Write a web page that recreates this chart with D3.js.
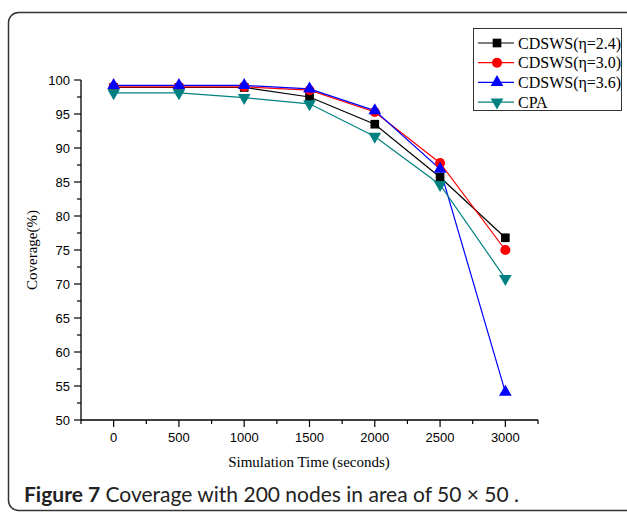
<!DOCTYPE html>
<html>
<head>
<meta charset="utf-8">
<script src="https://d3js.org/d3.v7.min.js"></script>
<style>
  body { margin: 0; background: #fff; }
</style>
</head>
<body>
<script>
  // data
  let times = [0, 500, 1000, 1500, 2000, 2500, 3000]
  let eta24 = [98.9, 98.9, 98.9, 97.5, 93.5, 85.7, 76.8]
  let eta30 = [99.0, 99.0, 99.0, 98.5, 95.3, 87.8, 75.0]
  let eta36 = [99.2, 99.2, 99.2, 98.7, 95.5, 86.9, 54.1]
  let cpa   = [98.1, 98.1, 97.4, 96.5, 91.7, 84.6, 70.8]
  let names = ["CDSWS(\u03b7=2.4)", "CDSWS(\u03b7=3.0)", "CDSWS(\u03b7=3.6)", "CPA"]
  let colors = ["#000000", "#ff0000", "#0000ff", "#008080"]
  let shapes = [d3.symbolSquare, d3.symbolCircle, d3.symbolTriangle, "down"]
  let yTicks = [50, 55, 60, 65, 70, 75, 80, 85, 90, 95, 100]
  let xTicks = [0, 500, 1000, 1500, 2000, 2500, 3000]

  let series = [eta24, eta30, eta36, cpa]

  let svg = d3.select("body").append("svg")
              .attr("width", 627).attr("height", 513)

  // outer rounded frame (runs off the right edge)
  svg.append("rect").attr("x", 8.5).attr("y", 12.5).attr("width", 640).attr("height", 498)
     .attr("rx", 10).attr("fill", "none").attr("stroke", "#333").attr("stroke-width", 1.5)

  let x = d3.scaleLinear().domain([-250, 3250]).range([81, 538])
  let y = d3.scaleLinear().domain([50, 100]).range([420, 80])

  // minor ticks
  let xMinor = d3.range(-250, 3251, 250).filter(v => v % 500 != 0)
  let yMinor = d3.range(52.5, 100, 5)

  let gx = svg.append("g").attr("transform", "translate(0,420)")
  gx.append("line").attr("x1", 81).attr("x2", 538).attr("stroke", "#000").attr("stroke-width", 1.3)
  gx.selectAll(".mn").data(xMinor).join("line")
    .attr("x1", d => x(d)).attr("x2", d => x(d)).attr("y1", 0).attr("y2", 4)
    .attr("stroke", "#000").attr("stroke-width", 1.2)
  gx.selectAll(".mj").data(xTicks).join("line")
    .attr("x1", d => x(d)).attr("x2", d => x(d)).attr("y1", 0).attr("y2", 7)
    .attr("stroke", "#000").attr("stroke-width", 1.2)
  gx.selectAll("text").data(xTicks).join("text")
    .attr("x", d => x(d)).attr("y", 22).attr("text-anchor", "middle")
    .attr("font-family", "Liberation Sans, Arial, sans-serif").attr("font-size", 13)
    .text(d => d)

  let gy = svg.append("g").attr("transform", "translate(81,0)")
  gy.append("line").attr("y1", 80).attr("y2", 420).attr("stroke", "#000").attr("stroke-width", 1.3)
  gy.selectAll(".mn").data(yMinor).join("line")
    .attr("y1", d => y(d)).attr("y2", d => y(d)).attr("x1", 0).attr("x2", -4)
    .attr("stroke", "#000").attr("stroke-width", 1.2)
  gy.selectAll(".mj").data(yTicks).join("line")
    .attr("y1", d => y(d)).attr("y2", d => y(d)).attr("x1", 0).attr("x2", -7)
    .attr("stroke", "#000").attr("stroke-width", 1.2)
  gy.selectAll("text").data(yTicks).join("text")
    .attr("x", -11).attr("y", d => y(d) + 4.5).attr("text-anchor", "end")
    .attr("font-family", "Liberation Sans, Arial, sans-serif").attr("font-size", 13)
    .text(d => d)

  // axis titles
  svg.append("text").attr("x", 309).attr("y", 467).attr("text-anchor", "middle")
     .attr("font-family", "Liberation Serif, Times New Roman, serif").attr("font-size", 15)
     .text("Simulation Time (seconds)")
  svg.append("text").attr("transform", "translate(37,250) rotate(-90)").attr("text-anchor", "middle")
     .attr("font-family", "Liberation Serif, Times New Roman, serif").attr("font-size", 15)
     .text("Coverage(%)")

  let marker = (sel, i) => {
    if (shapes[i] == "down") {
      sel.attr("d", d3.symbol().type(d3.symbolTriangle).size(70)).attr("transform", function() {
        return d3.select(this).attr("transform") + " rotate(180)"
      })
    } else {
      let size = i == 0 ? 75 : i == 1 ? 80 : 70
      sel.attr("d", d3.symbol().type(shapes[i]).size(size))
    }
  }

  let line = d3.line().x((d, j) => x(times[j])).y(d => y(d))

  series.forEach((vals, i) => {
    svg.append("path").datum(vals).attr("d", line)
       .attr("fill", "none").attr("stroke", colors[i]).attr("stroke-width", 1.2)
  })
  series.forEach((vals, i) => {
    svg.append("g").selectAll("path").data(vals).join("path")
       .attr("transform", (d, j) => "translate(" + x(times[j]) + "," + y(d) + ")")
       .attr("fill", colors[i])
       .call(marker, i)
  })

  // legend
  let lg = svg.append("g").attr("transform", "translate(473,28)")
  lg.append("rect").attr("x", 0.5).attr("y", 0.5).attr("width", 148).attr("height", 82)
    .attr("fill", "#fff").attr("stroke", "#333").attr("stroke-width", 1)
  names.forEach((n, i) => {
    let yy = 15 + i * 19.7
    lg.append("line").attr("x1", 5).attr("x2", 41).attr("y1", yy).attr("y2", yy)
      .attr("stroke", colors[i]).attr("stroke-width", 1.2)
    lg.append("path").attr("transform", "translate(24," + yy + ")").attr("fill", colors[i]).call(marker, i)
    lg.append("text").attr("x", 45).attr("y", yy + 5.5)
      .attr("font-family", "Liberation Serif, Times New Roman, serif").attr("font-size", 16)
      .text(n)
  })

  // caption
  let cap = svg.append("text").attr("x", 24).attr("y", 502)
     .attr("font-family", "Lato, Open Sans, sans-serif").attr("font-size", 21).attr("fill", "#222")
  cap.append("tspan").attr("font-weight", "bold").text("Figure 7")
  cap.append("tspan").text(" Coverage with 200 nodes in area of 50 \u00d7 50 .")
</script>
</body>
</html>
